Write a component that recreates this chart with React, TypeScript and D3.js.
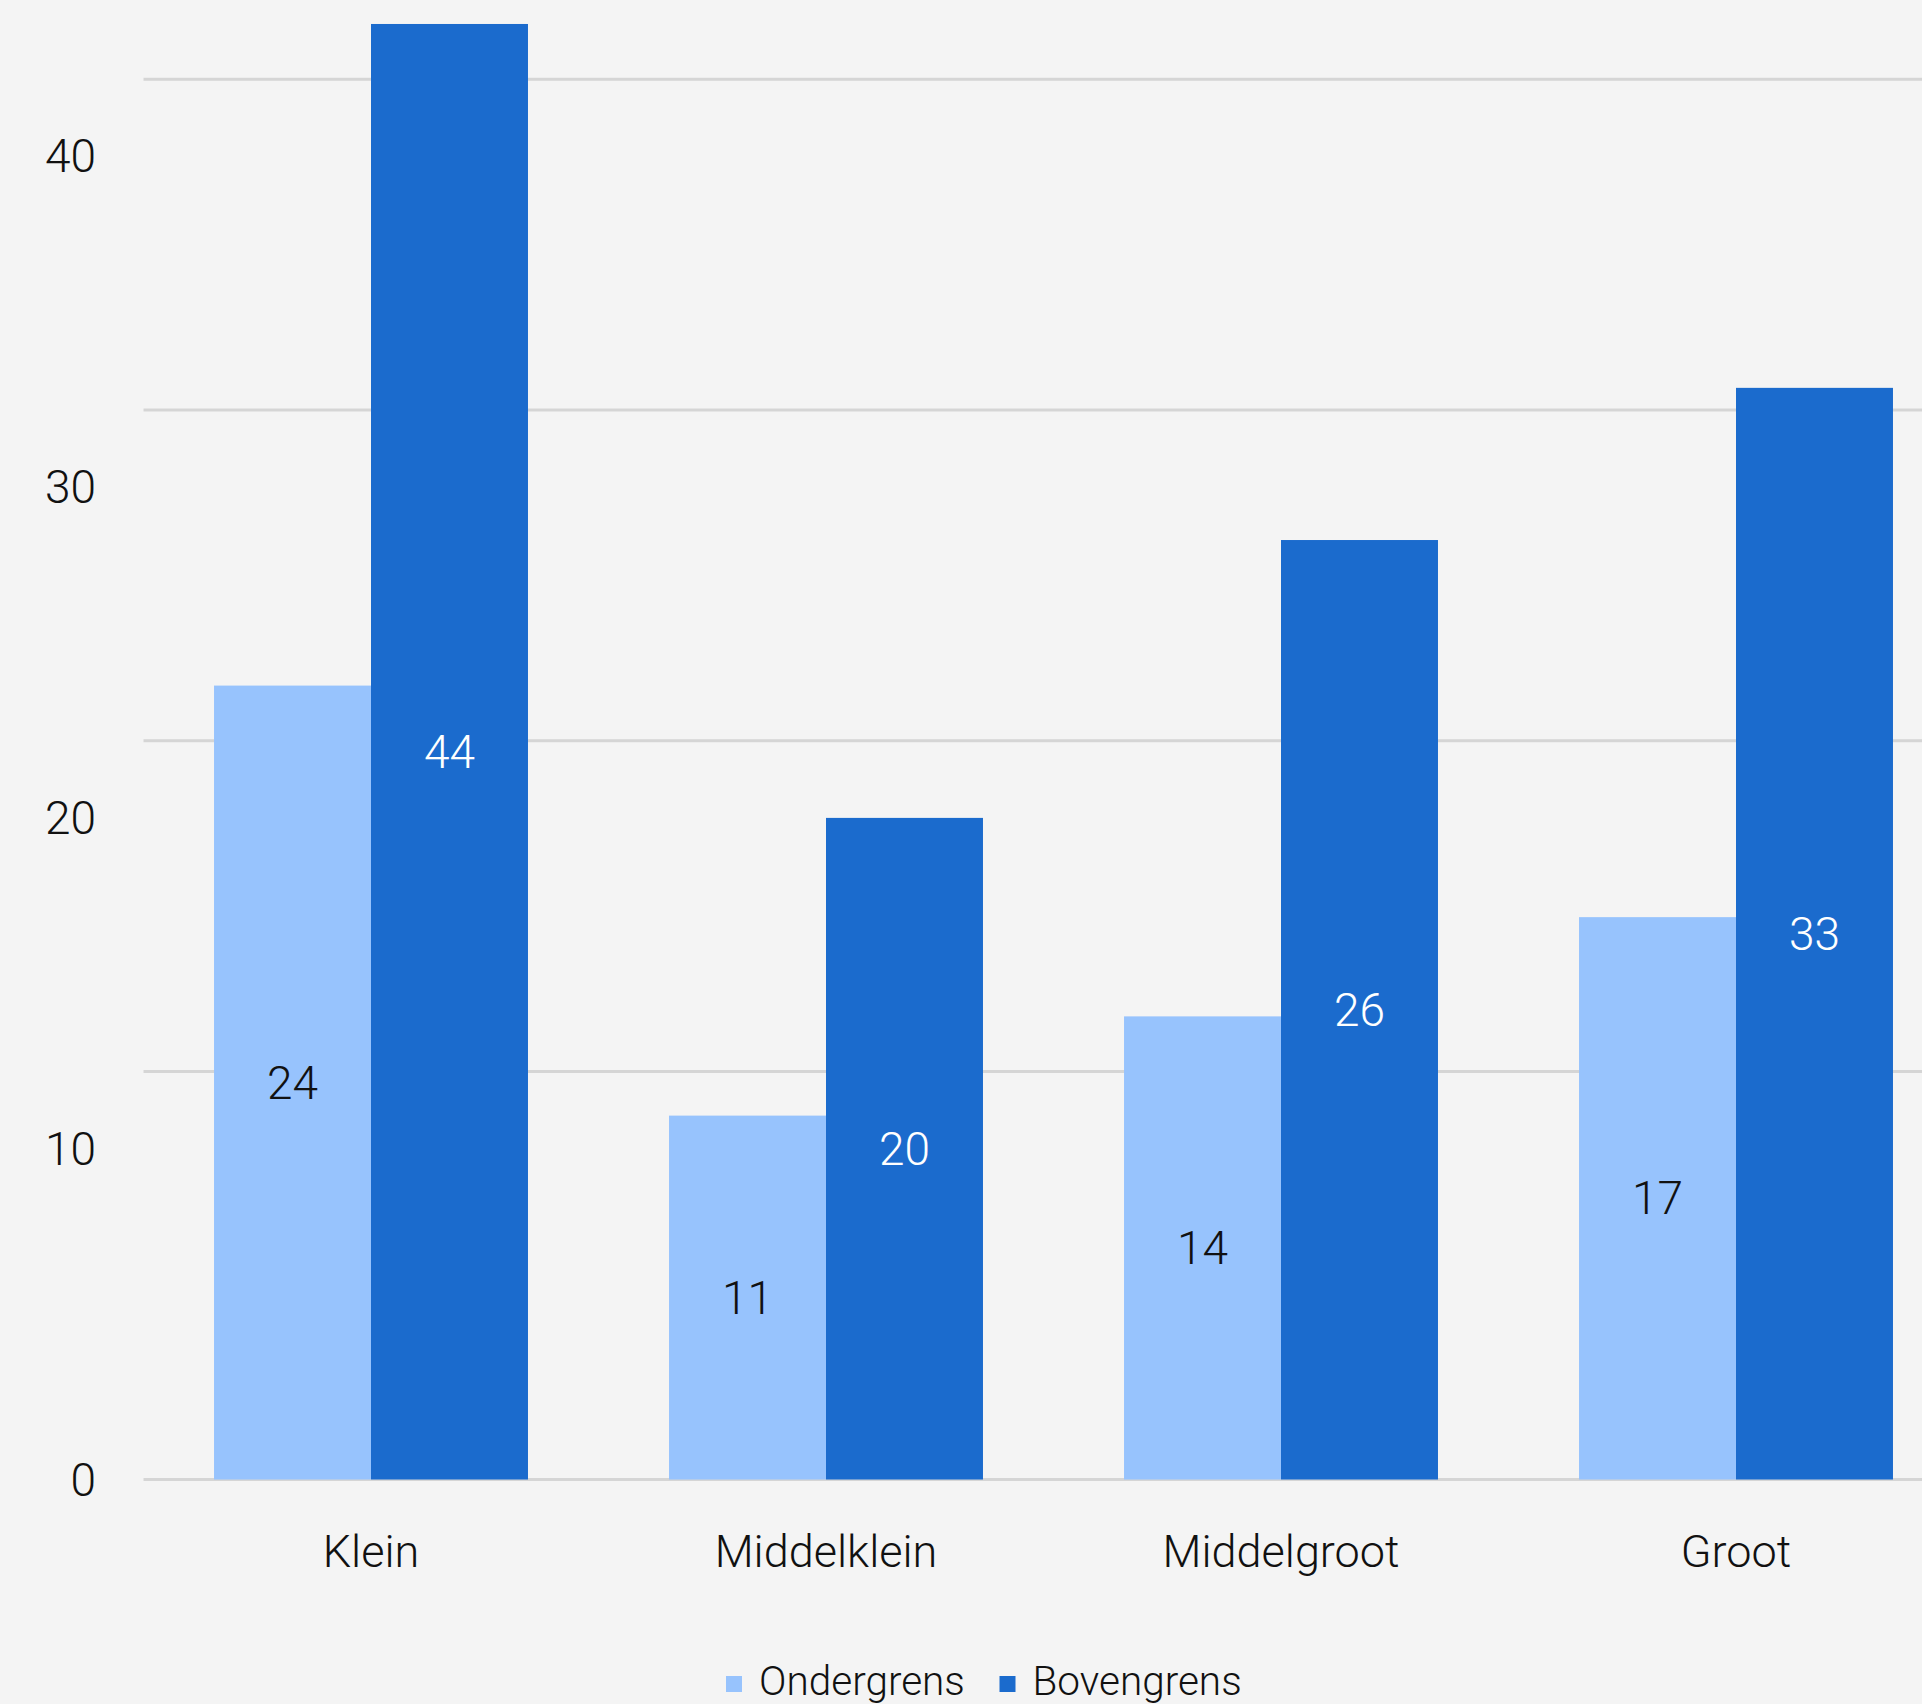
import React from "react";
import * as d3 from "d3";

const categories = ["Klein", "Middelklein", "Middelgroot", "Groot"];
const seriesNames = ["Ondergrens", "Bovengrens"];
const ondergrens = [24, 11, 14, 17];
const bovengrens = [44, 20, 28.4, 33];
const ondergrensLabels = ["24", "11", "14", "17"];
const bovengrensLabels = ["44", "20", "26", "33"];
const yTicks = [0, 10, 20, 30, 40];
const gridValues = [12.33, 22.33, 32.33, 42.33];

const W = 1922;
const H = 1704;
const COLORS = ["#97C3FD", "#1B6BCD"];
const LABEL_COLORS = ["#111111", "#ffffff"];
const FONT = "Roboto, 'Noto Sans', sans-serif";

export default function App() {
  const x = d3
    .scaleBand<string>()
    .domain(categories)
    .range([143.5, 1963.5])
    .paddingInner(0.31)
    .paddingOuter(0.155);
  const xSub = d3
    .scaleBand<string>()
    .domain(seriesNames)
    .range([0, x.bandwidth()]);
  const y = d3.scaleLinear().domain([0, 45]).range([1479.5, 1479.5 - 45 * 33.08]);

  const series = [
    { name: seriesNames[0], values: ondergrens, labels: ondergrensLabels },
    { name: seriesNames[1], values: bovengrens, labels: bovengrensLabels },
  ];

  return (
    <svg
      width={W}
      height={H}
      style={{ position: "absolute", left: 0, top: 0, display: "block" }}
      fontFamily={FONT}
    >
      <rect x={0} y={0} width={W} height={H} fill="#F4F4F4" />
      {gridValues.map((g) => (
        <line key={g} x1={143.5} x2={W} y1={y(g)} y2={y(g)} stroke="#D5D5D5" strokeWidth={3} />
      ))}
      <line x1={143.5} x2={W} y1={y(0)} y2={y(0)} stroke="#D5D5D5" strokeWidth={3} />
      {yTicks.map((t) => (
        <text
          key={t}
          x={96}
          y={y(t)}
          textAnchor="end"
          dominantBaseline="central"
          fontSize={46}
          fontWeight={300}
          fill="#111"
        >
          {t}
        </text>
      ))}
      {series.map((s, si) =>
        categories.map((c, ci) => {
          const bx = (x(c) as number) + (xSub(s.name) as number);
          const top = y(s.values[ci]);
          return (
            <rect
              key={s.name + c}
              x={bx}
              y={top}
              width={xSub.bandwidth()}
              height={y(0) - top}
              fill={COLORS[si]}
            />
          );
        })
      )}
      {series.map((s, si) =>
        categories.map((c, ci) => {
          const bx = (x(c) as number) + (xSub(s.name) as number) + xSub.bandwidth() / 2;
          const my = (y(0) + y(s.values[ci])) / 2;
          return (
            <text
              key={"l" + s.name + c}
              x={bx}
              y={my}
              textAnchor="middle"
              dominantBaseline="central"
              fontSize={46}
              fontWeight={300}
              fill={LABEL_COLORS[si]}
            >
              {s.labels[ci]}
            </text>
          );
        })
      )}
      {categories.map((c) => (
        <text
          key={"c" + c}
          x={(x(c) as number) + x.bandwidth() / 2}
          y={1566.7}
          textAnchor="middle"
          fontSize={45}
          fontWeight={300}
          fill="#111"
        >
          {c}
        </text>
      ))}
      <g>
        {seriesNames.map((n, i) => {
          const lx = i === 0 ? 726 : 999.5;
          return (
            <g key={n}>
              <rect x={lx} y={1676} width={16} height={16} fill={COLORS[i]} />
              <text x={lx + 33} y={1695} fontSize={40.5} fontWeight={300} fill="#111">
                {n}
              </text>
            </g>
          );
        })}
      </g>
    </svg>
  );
}
